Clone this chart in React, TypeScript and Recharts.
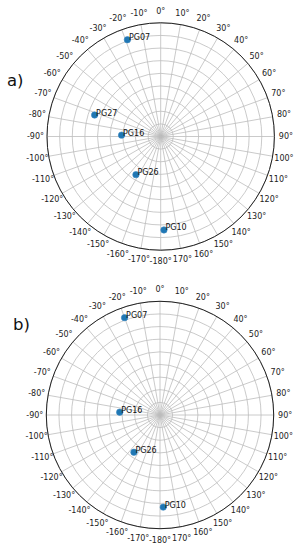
import React from "react";
import {
  PolarAngleAxis,
  PolarGrid,
  PolarRadiusAxis,
  Radar,
  RadarChart,
} from "recharts";

// azimuth ticks, clockwise from north
const azimuthTicks = [
  0, 10, 20, 30, 40, 50, 60, 70, 80, 90, 100, 110, 120, 130, 140, 150, 160, 170,
  180, 190, 200, 210, 220, 230, 240, 250, 260, 270, 280, 290, 300, 310, 320, 330,
  340, 350,
];
// zenith distance rings (90 - elevation)
const zenithRings = [0, 10, 20, 30, 40, 50, 60, 70, 80, 90];

const satsA = ["PG07", "PG27", "PG16", "PG26", "PG10"];
const azimuthA = [-19, -72, -88, -147, 178];
const elevationA = [9, 35, 59, 54, 16];

const satsB = ["PG07", "PG16", "PG26", "PG10"];
const azimuthB = [-20, -86, -145, 178];
const elevationB = [8, 58, 54, 17];

const FONT = "'DejaVu Sans', sans-serif";

const buildRows = (names: string[], az: number[], el: number[]) =>
  names.map((name, i) => ({
    name,
    az: (az[i] + 360) % 360,
    zen: 90 - el[i],
  }));

const formatAz = (v: number) => {
  if (v === 180) return "-180°";
  return `${v > 180 ? v - 360 : v}°`;
};

const AngleTick = (props: any) => {
  const { x, y, payload } = props;
  return (
    <text
      x={x}
      y={y}
      textAnchor="middle"
      dominantBaseline="central"
      fontFamily={FONT}
      fontSize={8}
      fill="#222"
    >
      {formatAz(payload.value)}
    </text>
  );
};

const SatDot = (props: any) => {
  const { cx, cy, payload } = props;
  const name = payload?.payload?.name ?? payload?.name;
  return (
    <g key={`${name}-${cx}`}>
      <circle cx={cx} cy={cy} r={3.2} fill="#1f77b4" stroke="#3a87c0" strokeWidth={0.6} />
      <text x={cx + 1.5} y={cy + 0.5} fontFamily={FONT} fontSize={8} fill="#111">
        {name}
      </text>
    </g>
  );
};

interface SkyPlotProps {
  rows: { name: string; az: number; zen: number }[];
  cx: number;
  cy: number;
}

const SkyPlot: React.FC<SkyPlotProps> = ({ rows, cx, cy }) => (
  <RadarChart
    width={301}
    height={275}
    data={rows}
    cx={cx}
    cy={cy}
    outerRadius={113.7}
    startAngle={90}
    endAngle={-270}
    margin={{ top: 0, right: 0, bottom: 0, left: 0 }}
  >
    <PolarGrid gridType="circle" stroke="#bcbcbc" strokeWidth={0.8} />
    <PolarRadiusAxis
      type="number"
      domain={[0, 90]}
      ticks={zenithRings}
      tickCount={10}
      tick={false}
      axisLine={false}
    />
    <PolarAngleAxis
      dataKey="az"
      type="number"
      domain={[0, 360]}
      ticks={azimuthTicks as any}
      tick={AngleTick}
      tickLine={false}
      tickSize={11.5}
      axisLineType="circle"
      axisLine={{ stroke: "#222", strokeWidth: 1 }}
    />
    <Radar
      dataKey="zen"
      stroke="none"
      fill="none"
      dot={SatDot}
      isAnimationActive={false}
    />
  </RadarChart>
);

const rowsA = buildRows(satsA, azimuthA, elevationA);
const rowsB = buildRows(satsB, azimuthB, elevationB);

export default function App() {
  return (
    <div
      style={{
        position: "absolute",
        left: 0,
        top: 0,
        width: 301,
        height: 550,
        background: "#fff",
      }}
    >
      <SkyPlot rows={rowsA} cx={160.7} cy={136.5} />
      <SkyPlot rows={rowsB} cx={160} cy={140} />
      <svg
        width={301}
        height={550}
        style={{ position: "absolute", left: 0, top: 0, pointerEvents: "none" }}
      >
        <text x={7} y={86} fontFamily={FONT} fontSize={16.5} fill="#111">
          a)
        </text>
        <text x={13} y={330} fontFamily={FONT} fontSize={16.5} fill="#111">
          b)
        </text>
      </svg>
    </div>
  );
}
